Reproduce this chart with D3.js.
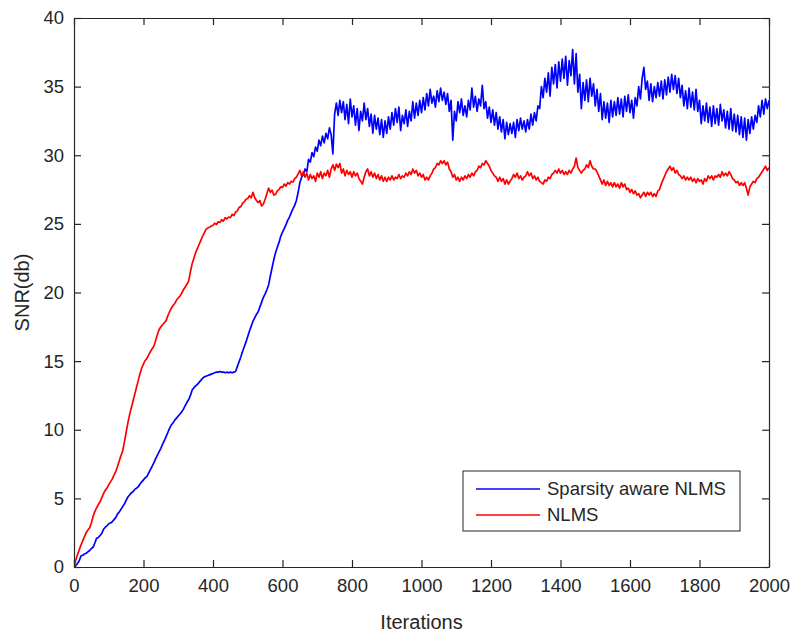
<!DOCTYPE html>
<html>
<head>
<meta charset="utf-8">
<script src="https://cdn.jsdelivr.net/npm/d3@7"></script>
<style>
  body { margin: 0; background: #fff; }
  text { font-family: "Liberation Sans", Arial, Helvetica, sans-serif; fill: #262626; }
</style>
</head>
<body>
<script>

const iterations = d3.range(0, 2001, 5);

const sparseSNR = [
  0, 0.1, 0.25, 0.45, 0.8, 0.85, 0.95, 1.0, 1.1, 1.2, 1.35, 1.45, 1.75, 2.1, 2.15, 2.3, 2.45, 2.75, 2.9, 3.0,
  3.15, 3.2, 3.3, 3.45, 3.6, 3.85, 4.0, 4.2, 4.4, 4.6, 4.85, 5.1, 5.25, 5.4, 5.5, 5.65, 5.75, 5.85, 6.05, 6.2,
  6.35, 6.5, 6.6, 6.85, 7.1, 7.35, 7.6, 7.9, 8.15, 8.4, 8.65, 8.95, 9.2, 9.5, 9.8, 10.1, 10.35, 10.5, 10.7, 10.85,
  11.0, 11.15, 11.3, 11.5, 11.75, 12.0, 12.2, 12.5, 12.9, 13.05, 13.2, 13.3, 13.45, 13.6, 13.75, 13.85, 13.9, 13.95, 14.0, 14.05,
  14.1, 14.15, 14.2, 14.2, 14.25, 14.2, 14.2, 14.15, 14.2, 14.15, 14.2, 14.15, 14.2, 14.25, 14.6, 14.95, 15.3, 15.7, 16.05, 16.4,
  16.8, 17.2, 17.55, 17.9, 18.15, 18.4, 18.6, 18.95, 19.3, 19.65, 19.9, 20.2, 20.55, 21.2, 21.8, 22.4, 22.9, 23.3, 23.65, 24.1,
  24.4, 24.65, 24.95, 25.25, 25.5, 25.8, 26.1, 26.35, 26.7, 27.3, 28.0, 28.4, 28.6, 29.0, 28.8, 29.7, 29.5, 30.2, 29.9, 30.6,
  30.3, 31.1, 30.7, 31.4, 30.9, 31.6, 31.2, 32.0, 31.5, 30.1, 33.0, 33.8, 32.9, 34.0, 33.1, 33.9, 32.6, 33.7, 32.3, 34.1,
  32.8, 33.6, 32.2, 33.4, 31.8, 33.2, 32.5, 33.8, 32.6, 33.4, 32.1, 33.0, 31.6, 32.9, 31.9, 32.7, 31.5, 32.6, 31.3, 32.5,
  31.6, 32.8, 31.9, 33.1, 32.2, 33.4, 32.4, 33.5, 31.8, 32.9, 32.3, 33.3, 32.1, 33.2, 32.5, 33.9, 32.7, 33.8, 32.9, 34.0,
  33.1, 34.2, 33.3, 34.5, 33.6, 34.8, 33.8, 34.3, 33.5, 34.7, 33.9, 34.9, 34.0, 34.6, 33.7, 34.5, 33.2, 34.0, 31.1, 33.2,
  32.5, 33.9, 33.1, 34.1, 32.9, 33.6, 32.8, 34.0, 33.3, 34.9, 33.5, 34.3, 33.2, 34.1, 33.6, 35.1, 33.4, 33.9, 32.7, 33.5,
  32.4, 33.3, 32.2, 33.1, 31.9, 32.8, 31.7, 32.6, 31.2, 32.4, 31.5, 32.3, 31.6, 32.4, 31.3, 32.6, 31.8, 32.7, 31.9, 32.5,
  31.7, 32.6, 31.9, 33.0, 32.2, 33.1, 32.5, 33.6, 33.4, 35.0, 34.2, 35.6, 34.6, 36.0, 34.3, 36.4, 35.2, 36.6, 34.9, 36.8,
  35.4, 37.0, 35.6, 37.2, 35.1, 36.9, 35.8, 37.7, 35.2, 37.4, 34.6, 35.9, 33.4, 35.3, 34.0, 35.5, 33.9, 35.6, 34.3, 35.2,
  33.6, 34.8, 33.2, 34.5, 32.6, 33.9, 32.7, 33.8, 32.4, 34.0, 32.8, 33.9, 32.9, 34.2, 33.0, 34.1, 32.8, 34.3, 33.2, 34.4,
  33.1, 34.0, 32.7, 34.2, 33.6, 35.0, 34.1, 35.6, 36.4, 34.8, 35.4, 34.0, 35.2, 33.9, 35.0, 34.2, 35.3, 34.3, 35.4, 34.1,
  35.5, 34.4, 35.7, 34.6, 35.9, 34.8, 35.8, 34.5, 35.6, 34.2, 35.1, 33.6, 34.7, 33.4, 34.9, 33.5, 34.6, 33.3, 34.8, 33.2,
  34.0, 32.3, 33.6, 32.5, 33.8, 32.4, 33.5, 32.1, 33.6, 32.3, 33.4, 32.2, 33.7, 32.5, 33.3, 32.0, 33.2, 31.9, 33.4, 31.8,
  33.0, 31.7, 32.9, 31.5, 32.8, 31.3, 32.7, 31.1, 32.6, 31.6, 32.8, 31.9, 32.9, 32.4, 33.6, 32.8, 34.0, 33.0, 34.1, 33.4,
  34.0
];

const nlmsSNR = [
  0, 0.5, 0.9, 1.25, 1.6, 1.9, 2.2, 2.5, 2.7, 2.85, 3.2, 3.7, 4.05, 4.3, 4.55, 4.75, 5.05, 5.35, 5.6, 5.75,
  6.0, 6.2, 6.4, 6.7, 6.95, 7.3, 7.7, 8.1, 8.45, 9.1, 9.8, 10.5, 11.1, 11.6, 12.1, 12.6, 13.1, 13.6, 14.1, 14.5,
  14.8, 15.05, 15.2, 15.45, 15.7, 15.9, 16.1, 16.5, 16.95, 17.3, 17.5, 17.65, 17.8, 17.95, 18.3, 18.6, 18.85, 19.05, 19.2, 19.45,
  19.6, 19.75, 19.95, 20.2, 20.4, 20.6, 20.85, 21.5, 22.1, 22.5, 22.9, 23.2, 23.5, 23.8, 24.1, 24.35, 24.6, 24.7, 24.75, 24.85,
  24.9, 25.05, 24.95, 25.15, 25.1, 25.3, 25.2, 25.45, 25.35, 25.5, 25.45, 25.7, 25.6, 25.85, 25.95, 26.2, 26.25, 26.5, 26.6, 26.8,
  26.85, 27.05, 26.9, 27.3, 26.9, 26.7, 26.55, 26.7, 26.3, 26.45, 26.8, 27.2, 27.6, 27.3, 27.45, 27.1, 27.15, 27.4, 27.5, 27.7,
  27.65, 27.9, 27.75, 28.0, 27.9, 28.1, 28.05, 28.3, 28.4, 28.65, 28.9, 28.5, 28.8, 28.4, 28.7, 28.2, 28.6, 28.3, 28.5, 28.1,
  28.7, 28.4, 28.8, 28.3, 28.7, 28.5, 28.9, 28.4, 29.0, 29.3, 28.9, 29.35, 29.1, 29.4, 28.7, 29.0, 28.5, 28.9, 28.6, 28.8,
  28.4, 28.8, 28.5, 28.7, 28.3, 28.1, 27.9, 28.4, 28.8, 29.0, 28.5, 28.8, 28.4, 28.7, 28.3, 28.6, 28.2, 28.5, 28.1, 28.4,
  28.1, 28.4, 28.2, 28.5, 28.2, 28.4, 28.3, 28.6, 28.3, 28.5, 28.4, 28.7, 28.5, 28.8, 28.6, 29.0, 28.7, 28.9, 28.5, 28.7,
  28.4, 28.6, 28.2, 28.4, 28.2, 28.5, 28.7, 29.0, 29.1, 29.4, 29.3, 29.6, 29.4, 29.6, 29.3, 29.5, 29.0, 28.8, 28.4, 28.6,
  28.2, 28.4, 28.1, 28.4, 28.2, 28.5, 28.3, 28.6, 28.4, 28.7, 28.5, 28.8, 28.9, 29.2, 29.1, 29.4, 29.3, 29.6, 29.4, 29.2,
  28.9, 28.7, 28.5, 28.4, 28.1, 28.4, 28.1, 28.3, 27.9, 28.2, 27.9, 28.1, 28.3, 28.6, 28.4, 28.7, 28.3, 28.5, 28.2, 28.4,
  28.5, 28.8, 28.5, 28.7, 28.3, 28.5, 28.2, 28.4, 28.1, 28.0, 27.9, 28.2, 28.1, 28.4, 28.3, 28.6, 28.7, 28.9, 28.7, 29.0,
  28.7, 28.9, 28.6, 28.8, 28.6, 28.9, 28.7, 29.0, 29.2, 29.8, 29.1, 28.9, 28.7, 28.9, 29.0, 29.3, 29.1, 29.6, 29.2, 29.0,
  29.0, 28.8, 28.5, 28.2, 27.9, 28.2, 27.8, 28.1, 27.8, 28.0, 27.7, 28.0, 27.7, 27.9, 27.6, 28.0, 27.7, 27.9, 27.5, 27.6,
  27.3, 27.5, 27.2, 27.4, 27.1, 27.2, 26.9, 27.1, 27.3, 27.0, 27.3, 27.1, 27.3, 27.0, 27.2, 27.0, 27.4, 27.5, 27.9, 28.2,
  28.5, 28.8, 29.0, 29.2, 28.9, 29.1, 28.7, 28.9, 28.6, 28.5, 28.3, 28.5, 28.2, 28.4, 28.2, 28.4, 28.1, 28.3, 28.0, 28.3,
  28.1, 28.2, 27.9, 28.3, 28.1, 28.5, 28.3, 28.5, 28.2, 28.5, 28.4, 28.6, 28.4, 28.8, 28.5, 28.7, 28.5, 28.8, 28.6, 28.3,
  28.2, 28.0, 28.1, 27.8, 28.0, 27.8, 28.0, 27.6, 27.1, 27.7, 27.9, 28.1, 28.0, 28.3, 28.4, 28.6, 28.8, 29.0, 29.2, 28.9,
  29.1
];

const seriesNames = ["Sparsity aware NLMS", "NLMS"];
const seriesColors = ["#0000ff", "#ff0000"];
const xTicks = [0, 200, 400, 600, 800, 1000, 1200, 1400, 1600, 1800, 2000];
const yTicks = [0, 5, 10, 15, 20, 25, 30, 35, 40];

const width = 793, height = 635;
const margin = {top: 18, right: 24, bottom: 68, left: 74};
const axisColor = "#262626";

const svg = d3.select("body").append("svg")
  .attr("width", width)
  .attr("height", height);

const x = d3.scaleLinear().domain([0, 2000]).range([margin.left, width - margin.right]);
const y = d3.scaleLinear().domain([0, 40]).range([height - margin.bottom, margin.top]);

svg.append("clipPath").attr("id", "plot")
  .append("rect")
  .attr("x", margin.left).attr("y", margin.top)
  .attr("width", x(2000) - x(0)).attr("height", y(0) - y(40));

const line = d3.line()
  .x((d, i) => x(iterations[i]))
  .y(d => y(d));

const allSeries = [sparseSNR, nlmsSNR];
svg.append("g").attr("clip-path", "url(#plot)")
  .selectAll("path")
  .data(allSeries)
  .join("path")
    .attr("d", line)
    .attr("fill", "none")
    .attr("stroke", (d, i) => seriesColors[i])
    .attr("stroke-width", 1.7)
    .attr("stroke-linejoin", "round");

// axes, MATLAB style with inward ticks on all four sides
function styleAxis(g) {
  g.selectAll(".domain").attr("stroke", axisColor).attr("stroke-width", 1.2);
  g.selectAll(".tick line").attr("stroke", axisColor).attr("stroke-width", 1.2);
  g.selectAll("text").attr("fill", axisColor).style("font-size", "18.5px")
    .style("font-family", "'Liberation Sans', Arial, sans-serif");
}

svg.append("g")
  .attr("transform", `translate(0,${y(0)})`)
  .call(d3.axisBottom(x).tickValues(xTicks).tickSizeInner(-7).tickSizeOuter(0).tickPadding(12).tickFormat(d3.format("d")))
  .call(styleAxis);

svg.append("g")
  .attr("transform", `translate(0,${y(40)})`)
  .call(d3.axisTop(x).tickValues(xTicks).tickSizeInner(-7).tickSizeOuter(0).tickFormat(""))
  .call(styleAxis);

svg.append("g")
  .attr("transform", `translate(${x(0)},0)`)
  .call(d3.axisLeft(y).tickValues(yTicks).tickSizeInner(-7).tickSizeOuter(0).tickPadding(10))
  .call(styleAxis);

svg.append("g")
  .attr("transform", `translate(${x(2000)},0)`)
  .call(d3.axisRight(y).tickValues(yTicks).tickSizeInner(-7).tickSizeOuter(0).tickFormat(""))
  .call(styleAxis);

svg.append("text")
  .attr("x", (x(0) + x(2000)) / 2)
  .attr("y", 629)
  .attr("text-anchor", "middle")
  .style("font-size", "20px")
  .text("Iterations");

svg.append("text")
  .attr("transform", `translate(29,${(y(0) + y(40)) / 2}) rotate(-90)`)
  .attr("text-anchor", "middle")
  .style("font-size", "20px")
  .text("SNR(db)");

// legend
const legend = svg.append("g");
legend.append("rect")
  .attr("x", 463).attr("y", 471)
  .attr("width", 277).attr("height", 60)
  .attr("fill", "#fff")
  .attr("stroke", axisColor)
  .attr("stroke-width", 1);

seriesNames.forEach((name, i) => {
  const cy = 489 + i * 26;
  legend.append("line")
    .attr("x1", 476).attr("x2", 540)
    .attr("y1", cy).attr("y2", cy)
    .attr("stroke", seriesColors[i])
    .attr("stroke-width", 1.5);
  legend.append("text")
    .attr("x", 547).attr("y", cy)
    .attr("dy", "0.35em")
    .style("font-size", "18.5px")
    .text(name);
});

</script>
</body>
</html>
